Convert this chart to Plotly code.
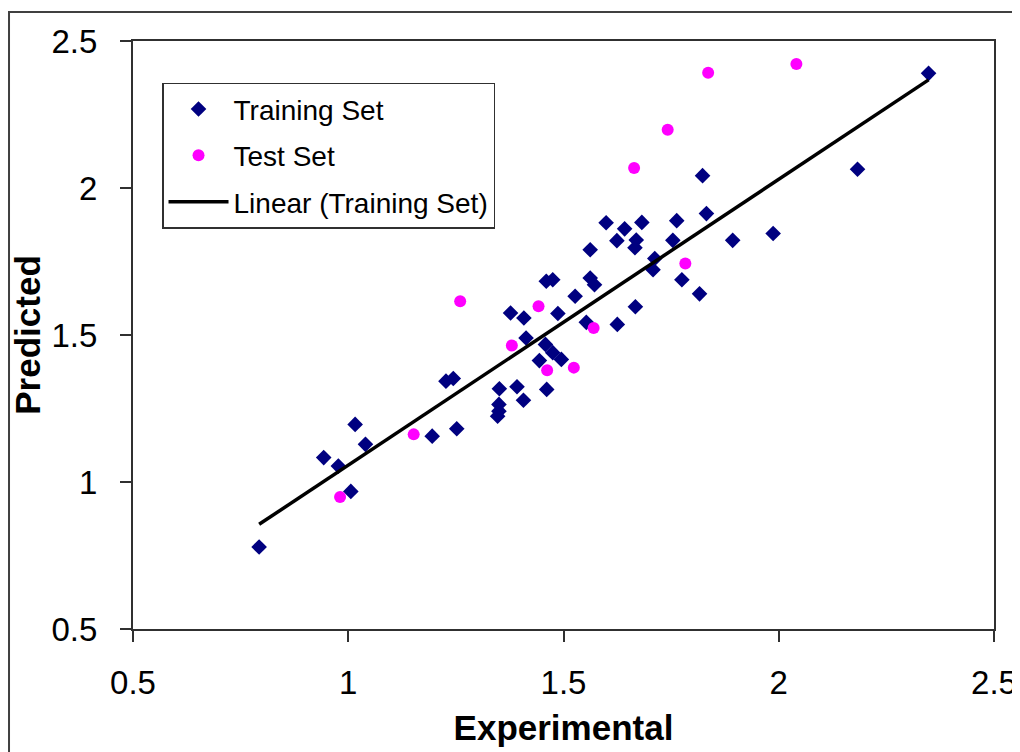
import numpy as np
import plotly.graph_objects as go

train_x = [0.793, 0.943, 0.977, 1.006, 1.016, 1.040, 1.195, 1.227, 1.244, 1.252,
           1.351, 1.350, 1.350, 1.347, 1.377, 1.392, 1.408, 1.407, 1.413, 1.444,
           1.458, 1.461, 1.460, 1.475, 1.475, 1.495, 1.487, 1.527, 1.553, 1.562,
           1.562, 1.572, 1.599, 1.625, 1.624, 1.642, 1.669, 1.666, 1.682, 1.667,
           1.712, 1.708, 1.754, 1.763, 1.775, 1.816, 1.823, 1.832, 1.893, 1.987,
           2.183, 2.348]
train_y = [0.779, 1.083, 1.054, 0.968, 1.196, 1.128, 1.156, 1.343, 1.352, 1.181,
           1.317, 1.264, 1.241, 1.224, 1.575, 1.324, 1.558, 1.278, 1.490, 1.413,
           1.468, 1.315, 1.683, 1.688, 1.440, 1.417, 1.573, 1.632, 1.543, 1.790,
           1.694, 1.671, 1.882, 1.536, 1.821, 1.861, 1.823, 1.797, 1.883, 1.596,
           1.760, 1.722, 1.822, 1.889, 1.688, 1.640, 2.042, 1.913, 1.822, 1.845,
           2.064, 2.390]

test_x = [0.981, 1.152, 1.260, 1.380, 1.442, 1.462, 1.524, 1.570, 1.664, 1.742,
          1.783, 1.836, 2.041]
test_y = [0.949, 1.162, 1.615, 1.464, 1.598, 1.380, 1.389, 1.524, 2.068, 2.198,
          1.743, 2.392, 2.422]

x_ticks = [0.5, 1, 1.5, 2, 2.5]
y_ticks = [0.5, 1, 1.5, 2, 2.5]

slope, intercept = np.polyfit(train_x, train_y, 1)
fit_x = [min(train_x), max(train_x)]
fit_y = [slope * v + intercept for v in fit_x]

FONT = "Liberation Sans, Arial, sans-serif"
AXC = "#303030"

fig = go.Figure()
fig.add_trace(go.Scatter(
    x=train_x, y=train_y, mode="markers", name="Training Set",
    legendgroup="a",
    marker=dict(symbol="diamond", size=12, color="#000080",
                line=dict(width=0))))
fig.add_trace(go.Scatter(
    x=test_x, y=test_y, mode="markers", name="Test Set",
    legendgroup="b",
    marker=dict(symbol="circle", size=12, color="#FF00FF",
                line=dict(width=0))))
fig.add_trace(go.Scatter(
    x=fit_x, y=fit_y, mode="lines", name="Linear (Training Set)",
    legendgroup="c",
    line=dict(color="black", width=3.5)))

axis_common = dict(
    showline=True, linecolor=AXC, linewidth=2, mirror=True,
    ticks="outside", ticklen=11, tickwidth=2, tickcolor=AXC,
    showgrid=False, zeroline=False, automargin=False,
    tickfont=dict(family=FONT, size=33, color="black"),
)

fig.update_layout(
    width=1012, height=744,
    margin=dict(l=125, r=26, t=33, b=123),
    paper_bgcolor="white", plot_bgcolor="white",
    xaxis=dict(range=[0.5, 2.5], tickvals=x_ticks,
               ticktext=[f"{v:g}" for v in x_ticks],
               ticklabelstandoff=12,
               title=dict(text="<b>Experimental</b>",
                          font=dict(family=FONT, size=35, color="black"),
                          standoff=16),
               **axis_common),
    yaxis=dict(range=[0.5, 2.5], tickvals=y_ticks,
               ticktext=[f"{v:g}" for v in y_ticks],
               ticklabelstandoff=16,
               title=dict(text="<b>Predicted</b>",
                          font=dict(family=FONT, size=35, color="black"),
                          standoff=0),
               **axis_common),
    legend=dict(
        x=0.0337, y=0.929, xanchor="left", yanchor="top",
        bgcolor="white", bordercolor=AXC, borderwidth=1.5,
        font=dict(family=FONT, size=28, color="black"),
        traceorder="grouped", tracegroupgap=7, itemwidth=60,
    ),
    showlegend=True,
    shapes=[dict(type="rect", xref="paper", yref="paper",
                 x0=-0.144, x1=1.04, y0=-0.25, y1=1.0493,
                 line=dict(color="#404040", width=2), layer="below")],
)

fig.write_html("out.html")
